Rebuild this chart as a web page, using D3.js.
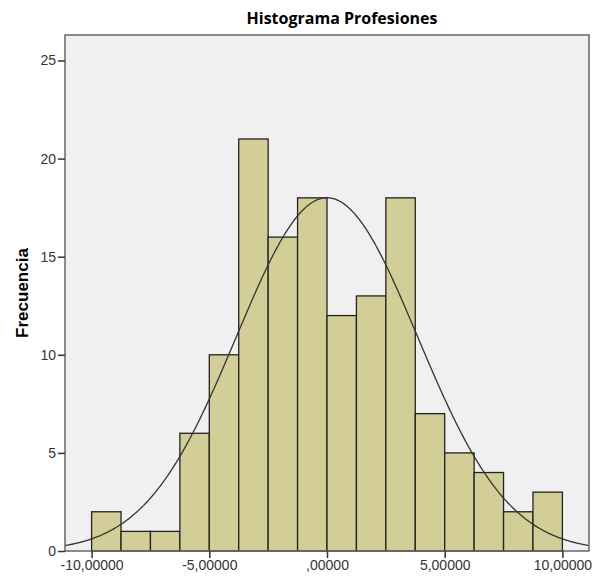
<!DOCTYPE html>
<html>
<head>
<meta charset="utf-8">
<script src="https://cdn.jsdelivr.net/npm/d3@7"></script>
<style>
  body { margin: 0; background: #fff; }
  svg { display: block; }
</style>
</head>
<body>
<svg id="chart" width="599" height="578"></svg>
<script>
// data
const binStarts = [-10, -8.75, -7.5, -6.25, -5, -3.75, -2.5, -1.25, 0, 1.25, 2.5, 3.75, 5, 6.25, 7.5, 8.75]
const counts = [2, 1, 1, 6, 10, 21, 16, 18, 12, 13, 18, 7, 5, 4, 2, 3]
const binWidth = 1.25
const xTicks = [-10, -5, 0, 5, 10]
const yTicks = [0, 5, 10, 15, 20, 25]
// fitted normal curve parameters
const mean = 0
const sd = 3.85
const total = d3.sum(counts)

const svg = d3.select('#chart')
const plot = { left: 65, right: 589, top: 35, bottom: 551 }

// scales
const x = d3.scaleLinear().domain([-11.13, 11.13]).range([plot.left, plot.right])
const y = d3.scaleLinear().domain([0, 26.3]).range([plot.bottom, plot.top])

// plot background
svg.append('rect')
    .attr('x', plot.left).attr('y', plot.top)
    .attr('width', plot.right - plot.left).attr('height', plot.bottom - plot.top)
    .attr('fill', '#f0f0f0')

// bars
svg.append('g')
    .selectAll('rect')
    .data(counts)
    .enter()
    .append('rect')
    .attr('x', (d, i) => x(binStarts[i]))
    .attr('y', d => y(d))
    .attr('width', x(binWidth) - x(0))
    .attr('height', d => y(0) - y(d))
    .attr('fill', '#d3ce97')
    .attr('stroke', '#222')
    .attr('stroke-width', 1.3)

// normal curve
const pts = d3.range(-11.13, 11.14, 0.05).map(v => [v,
    total * binWidth / (sd * Math.sqrt(2 * Math.PI)) * Math.exp(-((v - mean) ** 2) / (2 * sd * sd))])
svg.append('path')
    .attr('d', d3.line().x(d => x(d[0])).y(d => y(d[1]))(pts))
    .attr('fill', 'none')
    .attr('stroke', '#333')
    .attr('stroke-width', 1.3)

// frame
svg.append('rect')
    .attr('x', plot.left).attr('y', plot.top)
    .attr('width', plot.right - plot.left).attr('height', plot.bottom - plot.top)
    .attr('fill', 'none')
    .attr('stroke', '#666')
    .attr('stroke-width', 1.5)

// axes
const fmt = d => (d === 0 ? ',00000' : d3.format('.5f')(d).replace('.', ',').replace('−', '-'))
const xAxis = svg.append('g')
    .attr('transform', `translate(0,${plot.bottom})`)
    .call(d3.axisBottom(x).tickValues(xTicks).tickFormat(fmt).tickSizeOuter(0).tickSize(7).tickPadding(2))
const yAxis = svg.append('g')
    .attr('transform', `translate(${plot.left},0)`)
    .call(d3.axisLeft(y).tickValues(yTicks).tickSizeOuter(0).tickSize(7).tickPadding(2))
;[xAxis, yAxis].forEach(a => {
    a.select('.domain').remove()
    a.selectAll('line').attr('stroke', '#333').attr('stroke-width', 1.5)
    a.selectAll('text')
        .attr('fill', '#333')
        .style('font-family', 'Liberation Sans, Arial, sans-serif')
        .style('font-size', '14px')
})

// titles
svg.append('text')
    .attr('x', 342).attr('y', 24)
    .attr('text-anchor', 'middle')
    .style('font-family', 'Open Sans, sans-serif')
    .style('font-weight', 'bold')
    .style('font-size', '16px')
    .text('Histograma Profesiones')

svg.append('text')
    .attr('transform', 'translate(28,293) rotate(-90)')
    .attr('text-anchor', 'middle')
    .style('font-family', 'Liberation Sans, Arial, sans-serif')
    .style('font-weight', 'bold')
    .style('font-size', '17px')
    .text('Frecuencia')
</script>
</body>
</html>
